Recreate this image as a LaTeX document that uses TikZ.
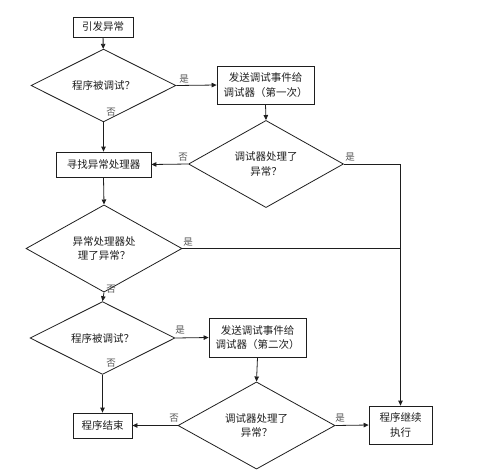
\documentclass[tikz,border=0pt]{standalone}
\usepackage{fontspec}
\newfontfamily\cjk{Noto Sans CJK SC}
\usetikzlibrary{shapes.geometric,arrows.meta}
\definecolor{ink}{RGB}{30,30,30}
\definecolor{lblc}{RGB}{85,85,85}
\tikzset{
  box/.style={draw=ink, line width=0.8pt, rectangle, inner sep=0pt, align=center, text=ink,
    font={\cjk\fontsize{10.5}{14.5}\selectfont}},
  dia/.style={draw=ink, line width=0.8pt, diamond, inner sep=0pt, align=center, text=ink,
    font={\cjk\fontsize{10.5}{14.5}\selectfont}},
  conn/.style={draw=ink, line width=0.8pt, -{Triangle[length=5pt,width=4.5pt]}},
  plain/.style={draw=ink, line width=0.8pt},
  lbl/.style={font={\cjk\fontsize{9.5}{10}\selectfont}, text=lblc, inner sep=0pt}
}
\begin{document}
\begin{tikzpicture}[x=1pt,y=-1pt]
\useasboundingbox (0,0) rectangle (479,472);
% nodes
\node[box, minimum width=60pt, minimum height=20pt] (start) at (103,27) {引发异常};
\node[dia, minimum width=145pt, minimum height=37pt] (d1) at (103.5,85.5) {程序被调试？};
\node[box, minimum width=97pt, minimum height=38pt] (b2) at (265.5,85) {发送调试事件给\\调试器（第一次）};
\node[box, minimum width=95pt, minimum height=25pt] (b3) at (103.5,164.5) {寻找异常处理器};
\node[dia, minimum width=155pt, minimum height=68pt] (d2) at (266,164) {调试器处理了\\异常？};
\node[dia, minimum width=156pt, minimum height=67pt] (d3) at (104,248.5) {异常处理器处\\理了异常？};
\node[dia, minimum width=145pt, minimum height=38pt] (d4) at (102.5,338) {程序被调试？};
\node[box, minimum width=97pt, minimum height=39pt] (b4) at (257.5,337.5) {发送调试事件给\\调试器（第二次）};
\node[box, minimum width=59pt, minimum height=25pt] (b5) at (102.5,425.5) {程序结束};
\node[dia, minimum width=157pt, minimum height=67pt] (d5) at (256.5,425.5) {调试器处理了\\异常？};
\node[box, minimum width=63pt, minimum height=38pt] (b6) at (400.5,425) {程序继续\\执行};
\coordinate (c1) at (b6.north |- d2.east);
\coordinate (c2) at (b6.north |- d3.east);
% labels
\node[lbl] (l1) at (184,79) {是};
\node[lbl] (l2) at (111,112) {否};
\node[lbl] (l3) at (183,157) {否};
\node[lbl] (l4) at (350,157) {是};
\node[lbl] (l5) at (188,242) {是};
\node[lbl] (l6) at (111,289) {否};
\node[lbl] (l7) at (180,330) {是};
\node[lbl] (l8) at (111,363.5) {否};
\node[lbl] (l9) at (174,418) {否};
\node[lbl] (l10) at (340,418) {是};
% connectors
\draw[conn] (start) -- (d1);
\draw[conn] (d1.east) -- (b2.west);
\draw[conn] (d1.south) -- (b3.north);
\draw[conn] (b2.south) -- (d2.north);
\draw[conn] (d2.west) -- (b3.east);
\draw[plain] (d2.east) -- (c1);
\draw[conn] (c1) -- (b6.north);
\draw[conn] (b3.south) -- (d3.north);
\draw[plain] (d3.east) -- (c2);
\draw[conn] (d3.south) -- (d4.north);
\draw[conn] (d4.east) -- (b4.west);
\draw[conn] (d4.south) -- (b5.north);
\draw[conn] (b4.south) -- (d5.north);
\draw[conn] (d5.west) -- (b5.east);
\draw[conn] (d5.east) -- (b6.west);
\end{tikzpicture}
\end{document}
